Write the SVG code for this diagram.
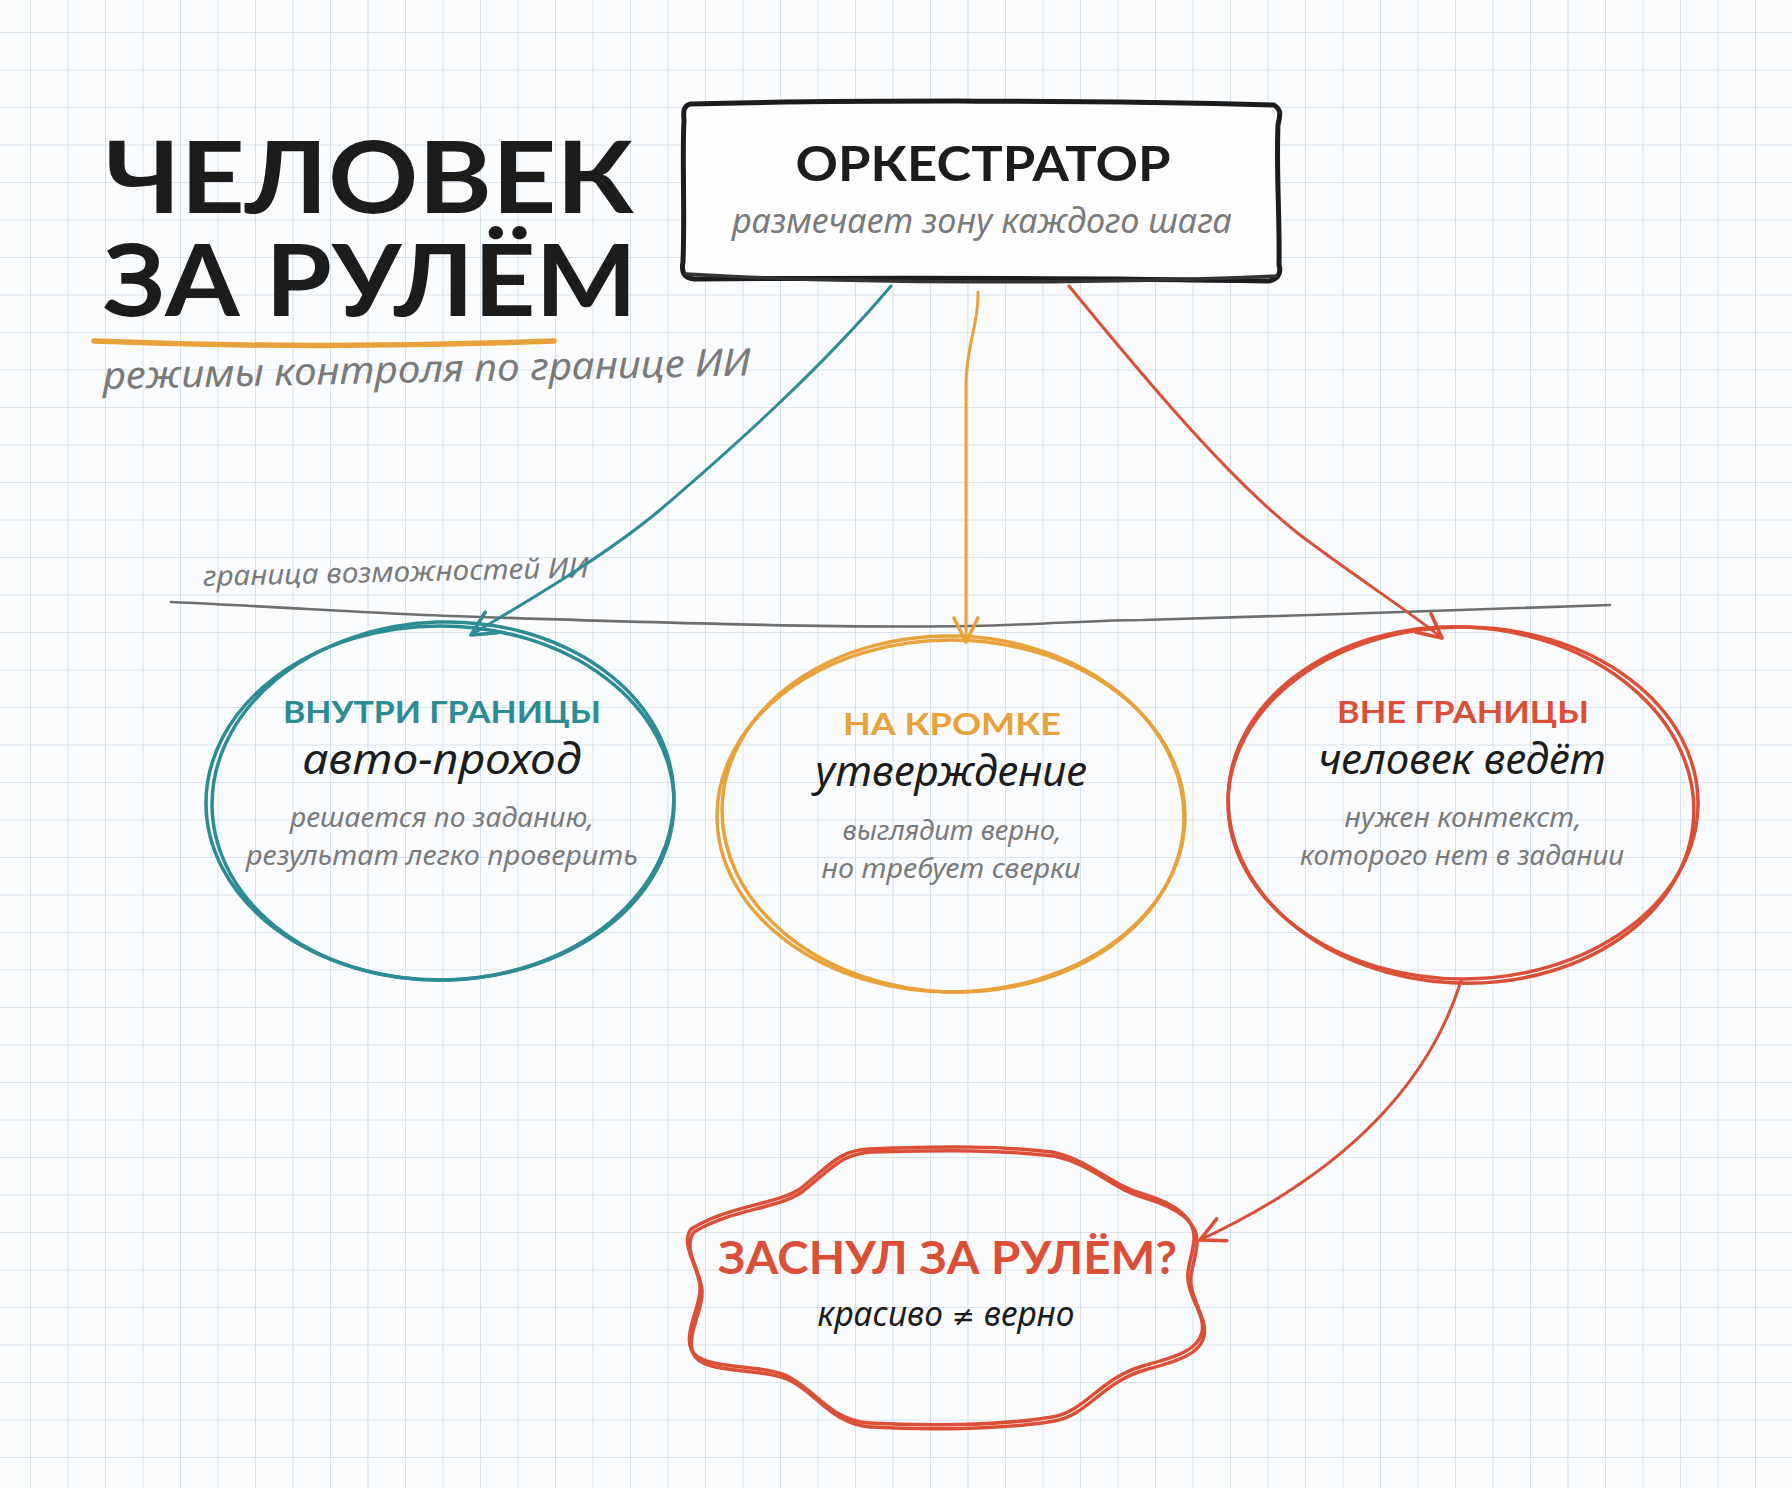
<svg xmlns="http://www.w3.org/2000/svg" width="1792" height="1488" viewBox="0 0 1792 1488">
<style>
.hand{font-family:"Noto Sans","DejaVu Sans",sans-serif;font-style:italic}
.caps{font-family:Lato,"Liberation Sans",sans-serif;font-weight:700}
.gray{fill:#7a7a7a}
.blk{fill:#1c1c1c}
.teal{stroke:#2b8c96}
.orng{stroke:#e9a13a}
.red{stroke:#dc4f37}
.sk{fill:none;stroke-width:3.5;stroke-linecap:round;stroke-linejoin:round}
.conn{fill:none;stroke-width:3;stroke-linecap:round}
</style>
<defs>
<pattern id="grid" x="30" y="32" width="37.5" height="37.5" patternUnits="userSpaceOnUse">
<path d="M0,0 V37.5 M0,0 H37.5" stroke="#cfdce9" stroke-width="1.7" fill="none"/>
</pattern>
<marker id="aT" viewBox="0 0 20 20" refX="18" refY="10" markerWidth="30" markerHeight="30" markerUnits="userSpaceOnUse" orient="auto"><path d="M2,2 L18,10 L2,18" fill="none" stroke="#2b8c96" stroke-width="2.4" stroke-linecap="round" stroke-linejoin="round"/></marker>
<marker id="aO" viewBox="0 0 20 20" refX="18" refY="10" markerWidth="30" markerHeight="30" markerUnits="userSpaceOnUse" orient="auto"><path d="M2,2 L18,10 L2,18" fill="none" stroke="#e9a13a" stroke-width="2.4" stroke-linecap="round" stroke-linejoin="round"/></marker>
<marker id="aR" viewBox="0 0 20 20" refX="18" refY="10" markerWidth="30" markerHeight="30" markerUnits="userSpaceOnUse" orient="auto"><path d="M2,2 L18,10 L2,18" fill="none" stroke="#dc4f37" stroke-width="2.4" stroke-linecap="round" stroke-linejoin="round"/></marker>
</defs>
<rect width="1792" height="1488" fill="#fbfcfd"/>
<rect width="1792" height="1488" fill="url(#grid)"/>

<g id="title">
<text x="105" y="213" class="caps blk" font-size="100" textLength="529" lengthAdjust="spacingAndGlyphs">ЧЕЛОВЕК</text>
<text x="103" y="316" class="caps blk" font-size="100" textLength="534" lengthAdjust="spacingAndGlyphs">ЗА РУЛЁМ</text>
<path d="M94,341 Q320,350 554,341" fill="none" stroke="#e9a13a" stroke-width="5.5" stroke-linecap="round"/>
<text x="103" y="389" class="hand gray" font-size="38" textLength="648" lengthAdjust="spacingAndGlyphs" transform="rotate(-1.2 103 389)">режимы контроля по границе ИИ</text>
</g>

<g id="boundary">
<path d="M171,602 C300,608 400,615 480,617 C700,624 850,628 971,626 C1050,624 1100,620 1143,620 C1300,616 1450,610 1610,605" fill="none" stroke="#6e6e6e" stroke-width="2.6" stroke-linecap="round"/>
<text x="203" y="586" class="hand gray" font-size="28" textLength="386" lengthAdjust="spacingAndGlyphs" transform="rotate(-1.3 203 586)">граница возможностей ИИ</text>
</g>

<g id="orchestrator">
<path d="M690,104 C850,100 1100,100 1274,105 C1282,110 1280,115 1278,125 C1276,170 1280,220 1279,265 C1282,275 1276,280 1268,281 C1100,278 850,278 694,279 C684,278 681,272 683,262 C685,210 682,160 684,120 C683,110 684,106 690,104 Z" fill="#fefefe" stroke="#1c1c1c" stroke-width="5" stroke-linejoin="round"/>
<path d="M686,274 C850,284 1100,284 1276,276" fill="none" stroke="#333" stroke-width="3.5" stroke-linecap="round"/>
<text x="983" y="181" text-anchor="middle" class="caps blk" font-size="48" textLength="375" lengthAdjust="spacingAndGlyphs">ОРКЕСТРАТОР</text>
<text x="982" y="233" text-anchor="middle" class="hand gray" font-size="34" textLength="500" lengthAdjust="spacingAndGlyphs">размечает зону каждого шага</text>
</g>

<g id="connectors">
<path class="conn teal" d="M891,286 C820,370 730,450 660,510 C600,560 520,605 471,635" marker-end="url(#aT)"/>
<path class="conn orng" d="M978,292 C979,325 966,345 966,385 L966,642" marker-end="url(#aO)"/>
<path class="conn red" d="M1069,286 C1150,385 1230,480 1300,535 C1360,580 1410,612 1442,638" marker-end="url(#aR)"/>
<path class="conn red" d="M1461,981 C1430,1080 1350,1170 1200,1240" marker-end="url(#aR)"/>
</g>

<g id="inside">
<ellipse cx="440" cy="803" rx="234" ry="177" class="sk teal"/>
<ellipse cx="443" cy="801" rx="231" ry="179" class="sk teal" stroke-width="2" transform="rotate(-2 443 801)"/>
<text x="442" y="723" text-anchor="middle" class="caps" fill="#2b8c96" font-size="31" textLength="318" lengthAdjust="spacingAndGlyphs">ВНУТРИ ГРАНИЦЫ</text>
<text x="442" y="774" text-anchor="middle" class="hand blk" font-size="42" textLength="279" lengthAdjust="spacingAndGlyphs">авто-проход</text>
<text x="442" y="827" text-anchor="middle" class="hand gray" font-size="28" textLength="304" lengthAdjust="spacingAndGlyphs">решается по заданию,</text>
<text x="442" y="865" text-anchor="middle" class="hand gray" font-size="28" textLength="392" lengthAdjust="spacingAndGlyphs">результат легко проверить</text>
</g>

<g id="edge">
<ellipse cx="951" cy="816" rx="234" ry="176" class="sk orng"/>
<ellipse cx="953" cy="814" rx="231" ry="178" class="sk orng" stroke-width="2" transform="rotate(2 953 814)"/>
<text x="952" y="735" text-anchor="middle" class="caps" fill="#e9a13a" font-size="31" textLength="218" lengthAdjust="spacingAndGlyphs">НА КРОМКЕ</text>
<text x="951" y="786" text-anchor="middle" class="hand blk" font-size="42" textLength="272" lengthAdjust="spacingAndGlyphs">утверждение</text>
<text x="952" y="840" text-anchor="middle" class="hand gray" font-size="28" textLength="219" lengthAdjust="spacingAndGlyphs">выглядит верно,</text>
<text x="951" y="878" text-anchor="middle" class="hand gray" font-size="28" textLength="259" lengthAdjust="spacingAndGlyphs">но требует сверки</text>
</g>

<g id="outside">
<ellipse cx="1463" cy="803" rx="235" ry="176" class="sk red"/>
<ellipse cx="1461" cy="805" rx="233" ry="178" class="sk red" stroke-width="2" transform="rotate(3 1461 805)"/>
<text x="1463" y="723" text-anchor="middle" class="caps" fill="#dc4f37" font-size="31" textLength="252" lengthAdjust="spacingAndGlyphs">ВНЕ ГРАНИЦЫ</text>
<text x="1462" y="774" text-anchor="middle" class="hand blk" font-size="42" textLength="288" lengthAdjust="spacingAndGlyphs">человек ведёт</text>
<text x="1463" y="827" text-anchor="middle" class="hand gray" font-size="28" textLength="237" lengthAdjust="spacingAndGlyphs">нужен контекст,</text>
<text x="1462" y="865" text-anchor="middle" class="hand gray" font-size="28" textLength="324" lengthAdjust="spacingAndGlyphs">которого нет в задании</text>
</g>

<g id="asleep">
<path class="sk red" d="M691,1229 C730,1205 775,1205 800,1189 C830,1165 840,1150 869,1149 C950,1146 1000,1146 1052,1152 C1090,1160 1110,1185 1143,1194 C1170,1202 1196,1215 1194,1240 C1192,1260 1185,1270 1189,1286 C1194,1305 1205,1318 1202,1332 C1198,1352 1170,1358 1143,1366 C1100,1378 1085,1412 1052,1417 C1000,1426 920,1426 869,1423 C830,1420 815,1390 789,1377 C760,1362 700,1372 691,1349 C684,1330 702,1305 700,1286 C698,1265 680,1245 691,1229 Z"/>
<path class="sk red" stroke-width="2" d="M694,1232 C732,1209 777,1209 802,1192 C832,1168 842,1154 871,1152 C952,1150 1002,1150 1054,1156 C1092,1164 1112,1189 1145,1198 C1172,1206 1199,1219 1197,1244 C1195,1264 1188,1274 1192,1290 C1197,1309 1207,1322 1204,1336 C1200,1356 1172,1362 1145,1370 C1102,1382 1087,1416 1054,1421 C1002,1430 922,1430 871,1427 C832,1424 817,1394 791,1381 C762,1366 702,1376 693,1353 C686,1334 704,1309 702,1290 C700,1269 682,1249 694,1232 Z"/>
<text x="718" y="1274" class="caps" fill="#dc4f37" font-size="46" textLength="459" lengthAdjust="spacingAndGlyphs">ЗАСНУЛ ЗА РУЛЁМ?</text>
<text x="946" y="1326" text-anchor="middle" class="hand blk" font-size="34" textLength="257" lengthAdjust="spacingAndGlyphs">красиво <tspan font-family="'DejaVu Sans',sans-serif" font-style="normal" font-size="28">≠</tspan> верно</text>
</g>
</svg>
